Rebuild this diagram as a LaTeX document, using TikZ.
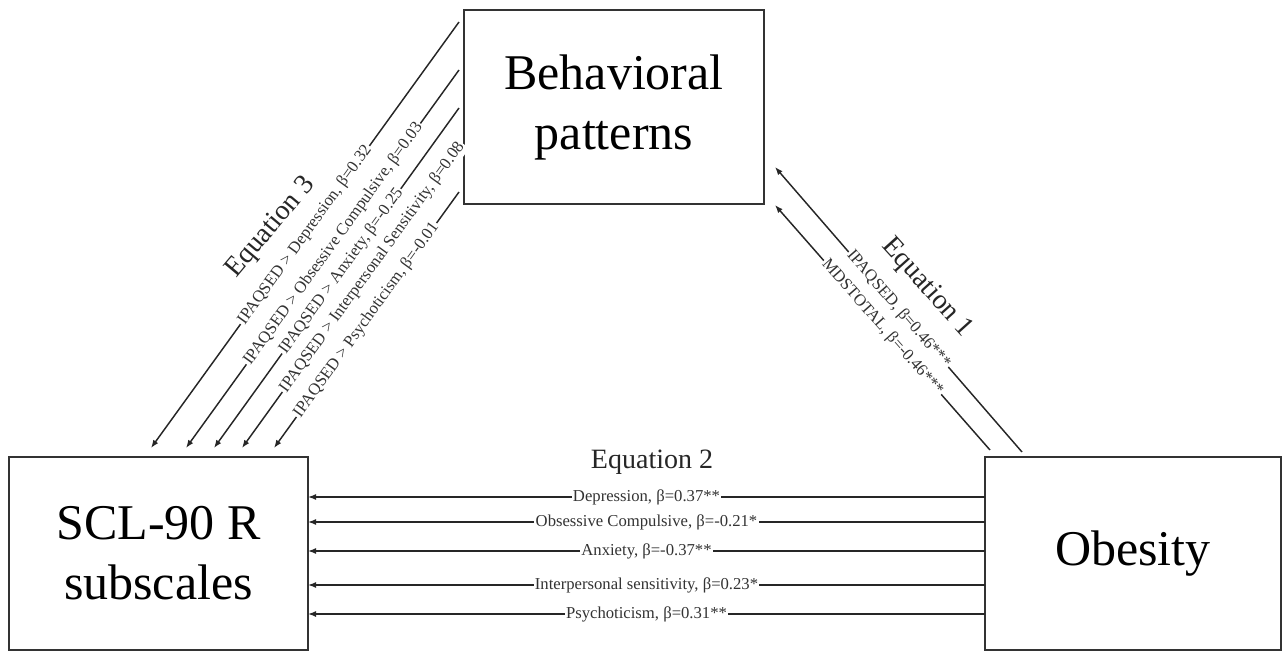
\documentclass[tikz,border=0pt]{standalone}
\usepackage{fontspec}
\setmainfont{Liberation Serif}
\usetikzlibrary{arrows.meta}

\begin{document}
\begin{tikzpicture}[x=0.75pt,y=0.75pt,yscale=-1,xscale=1,
  box/.style={draw=black!80,line width=1.5pt,align=center,inner sep=0pt,font=\fontsize{37.5}{45}\selectfont},
  conn/.style={draw=black!85,line width=1.1pt,-{Latex[length=6pt,width=4.5pt]}},
  lab/.style={fill=white,inner sep=1pt,text=black!80,font=\fontsize{12.5}{14}\selectfont},
  eqlab/.style={inner sep=0.75pt,text=black!85,font=\fontsize{21}{24}\selectfont}]
\useasboundingbox (0,0) rectangle (1282,652);

%Shape: Rectangle [behavioral]
\node[box,minimum width=225pt,minimum height=145.5pt] (beh) at (614,107) {Behavioral\\patterns};
%Shape: Rectangle [scl]
\node[box,minimum width=224.25pt,minimum height=144.75pt] (scl) at (158.5,553.5) {SCL-90 R\\subscales};
%Shape: Rectangle [obesity]
\node[box,minimum width=222pt,minimum height=144.75pt] (obe) at (1133,553.5) {Obesity};

%Straight Lines [equation 3]
\foreach \i/\yb/\xs/\p/\txt in {1/22/151/0.5/{IPAQSED > Depression, β=0.32},
    2/70/186/0.46/{IPAQSED > Obsessive Compulsive, β=0.03},
    3/108/214/0.48/{IPAQSED > Anxiety, β=-0.25},
    4/147/242/0.4/{IPAQSED > Interpersonal Sensitivity, β=0.08},
    5/192/274/0.5/{IPAQSED > Psychoticism, β=-0.01}}{
  \coordinate (b\i) at (459,\yb);
  \coordinate (s\i) at (\xs,448);
  \draw[conn] (b\i) -- node[lab,rotate=54.2,pos=\p] {\txt} (s\i);
}

%Straight Lines [equation 2]
\foreach \i/\yy/\txt in {1/497/{Depression, β=0.37**},
    2/522/{Obsessive Compulsive, β=-0.21*},
    3/551/{Anxiety, β=-0.37**},
    4/585/{Interpersonal sensitivity, β=0.23*},
    5/614/{Psychoticism, β=0.31**}}{
  \coordinate (r\i) at (985,\yy);
  \coordinate (l\i) at (308,\yy);
  \draw[conn] (r\i) -- node[lab] {\txt} (l\i);
}

%Straight Lines [equation 1]
\coordinate (o1) at (1022,452);
\coordinate (t1) at (775,167);
\coordinate (o2) at (990,450);
\coordinate (t2) at (775,205);
\draw[conn] (o1) -- node[lab,rotate=-49.1] {IPAQSED, β=0.46***} (t1);
\draw[conn] (o2) -- node[lab,rotate=-48.7] {MDSTOTAL, β=-0.46***} (t2);

% Text Node
\node[eqlab,rotate=50] (eq3) at (271,228) {Equation 3};
% Text Node
\node[eqlab] (eq2) at (652,462) {Equation 2};
% Text Node
\node[eqlab,rotate=-48] (eq1) at (927,288) {Equation 1};

\end{tikzpicture}
\end{document}
